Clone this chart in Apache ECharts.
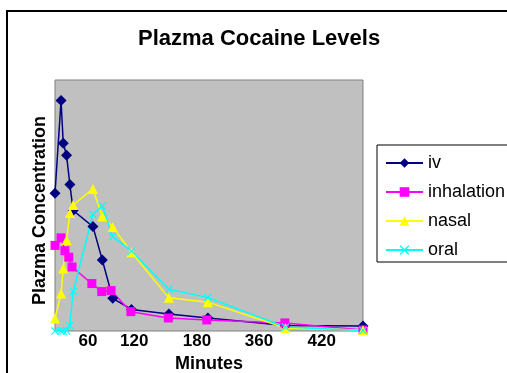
<!DOCTYPE html>
<html>
<head>
<meta charset="utf-8">
<style>
  html, body { margin: 0; padding: 0; background: #fff; }
  #chart { width: 507px; height: 373px; }
</style>
<script src="https://cdn.jsdelivr.net/npm/echarts@6/dist/echarts.min.js"></script>
</head>
<body>
<div id="chart"></div>
<script>
// Sampling times (minutes) for the iv, nasal and oral groups
const sampleTimes = [0, 11, 15, 21, 27, 33, 69, 86, 105, 139, 207, 278, 419, 560];
// Inhalation group was sampled on its own schedule
const inhalationTimes = [0, 11, 18, 25, 31, 67, 85, 102, 138, 206, 276, 418, 560];

// Relative plasma concentration per route
const ivLevels = [54.9, 91.8, 74.8, 70.0, 58.4, 48.0, 41.6, 28.3, 13.0, 8.6, 6.8, 5.2, 2.2, 2.0];
const inhalationLevels = [34.1, 37.1, 32.0, 29.4, 25.5, 18.9, 15.7, 16.1, 7.7, 5.2, 4.4, 3.2, 0.4];
const nasalLevels = [5.0, 14.9, 24.9, 36.3, 47.0, 50.2, 56.6, 45.6, 41.4, 31.4, 13.2, 11.5, 1.2, 0.4];
const oralLevels = [0, 0, 0, 0, 2.2, 15.7, 46.5, 49.8, 37.6, 31.9, 16.6, 13.3, 1.6, 0.2];

// Time-axis labels and where along the axis they sit
const tickLabels = ['60', '120', '180', '360', '420'];
const tickAt = [60, 144, 258, 371, 485];

const FONT = '"Liberation Sans", Arial, sans-serif';
const crossPath = 'path://M0,1L1,0L5,4L9,0L10,1L6,5L10,9L9,10L5,6L1,10L0,9L4,5Z';

function pairs(xs, ys) {
  return ys.map((y, i) => [xs[i], y]);
}

function lineSeries(name, xs, ys, color, symbol, size) {
  return {
    name: name,
    type: 'line',
    data: pairs(xs, ys),
    symbol: symbol,
    symbolSize: size,
    showAllSymbol: true,
    clip: false,
    lineStyle: { color: color, width: 1.5 },
    itemStyle: { color: color, borderColor: color, borderWidth: 0 },
    emphasis: { disabled: true },
    animation: false
  };
}

const chart = echarts.init(document.getElementById('chart'), null, { renderer: 'canvas' });

chart.setOption({
  backgroundColor: '#ffffff',
  animation: false,
  title: {
    text: 'Plazma Cocaine Levels',
    left: 138,
    top: 28,
    padding: 0,
    textStyle: { fontFamily: FONT, fontSize: 22, fontWeight: 'bold', color: '#000' }
  },
  graphic: [{
    type: 'rect',
    shape: { x: 7, y: 11, width: 600, height: 500 },
    style: { fill: 'none', stroke: '#000', lineWidth: 2 },
    silent: true
  }],
  legend: {
    orient: 'vertical',
    left: 377,
    top: 145,
    padding: [9, 10, 3, 8],
    itemWidth: 37,
    itemHeight: 12,
    itemGap: 11,
    borderColor: '#000',
    borderWidth: 1,
    backgroundColor: '#fff',
    textStyle: { fontFamily: FONT, fontSize: 18, color: '#000', lineHeight: 18 },
    data: ['iv', 'inhalation', 'nasal', 'oral']
  },
  grid: {
    left: 55,
    top: 80,
    right: 144,
    bottom: 42,
    outerBoundsMode: 'none',
    containLabel: false,
    show: true,
    backgroundColor: '#c0c0c0',
    borderColor: '#808080',
    borderWidth: 1
  },
  xAxis: {
    type: 'value',
    min: 0,
    max: 560,
    name: 'Minutes',
    nameLocation: 'middle',
    nameGap: 24,
    nameTextStyle: { fontFamily: FONT, fontSize: 18, fontWeight: 'bold', color: '#000' },
    axisLine: { show: false },
    axisTick: { show: false },
    splitLine: { show: false },
    axisLabel: {
      customValues: tickAt,
      formatter: (v) => tickLabels[tickAt.indexOf(v)] || '',
      fontFamily: FONT,
      fontSize: 17,
      fontWeight: 'bold',
      color: '#000',
      margin: 2
    }
  },
  yAxis: {
    type: 'value',
    min: 0,
    max: 100,
    name: 'Plazma Concentration',
    nameLocation: 'middle',
    nameGap: 6,
    nameTextStyle: { fontFamily: FONT, fontSize: 18, fontWeight: 'bold', color: '#000', padding: [0, 10, 0, 0] },
    axisLine: { show: false },
    axisTick: { show: false },
    axisLabel: { show: false },
    splitLine: { show: false }
  },
  series: [
    lineSeries('iv', sampleTimes, ivLevels, '#000080', 'diamond', 11),
    lineSeries('inhalation', inhalationTimes, inhalationLevels, '#ff00ff', 'rect', 9),
    lineSeries('nasal', sampleTimes, nasalLevels, '#ffff00', 'triangle', 10),
    lineSeries('oral', sampleTimes, oralLevels, '#00ffff', crossPath, 8)
  ]
});
</script>
</body>
</html>
